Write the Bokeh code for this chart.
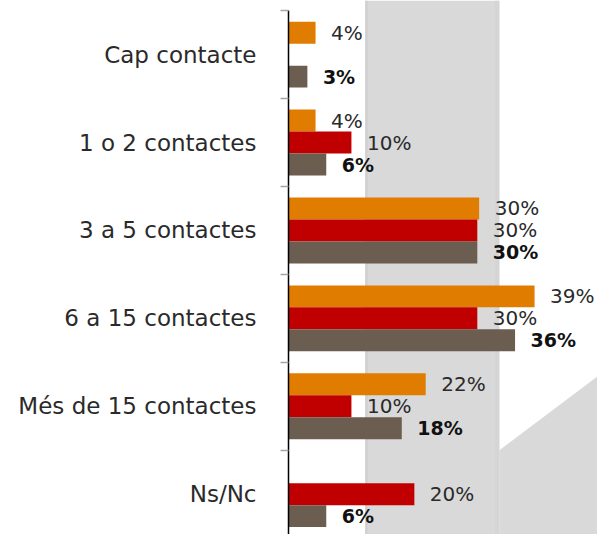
from bokeh.plotting import figure
from bokeh.models import ColumnDataSource, Range1d, FixedTicker, BoxAnnotation, PolyAnnotation
from bokeh.embed import file_html
from bokeh.resources import INLINE
from bokeh.core.properties import value

# ---- data ----
categories = ["Cap contacte", "1 o 2 contactes", "3 a 5 contactes",
              "6 a 15 contactes", "Més de 15 contactes", "Ns/Nc"]
orange_vals = [4.3, 4.3, 30.3, 39.1, 21.8, None]
red_vals = [None, 10.0, 30.0, 30.0, 10.0, 20.0]
brown_vals = [3.0, 6.0, 30.0, 36.0, 18.0, 6.0]

series = [
    (orange_vals, "#E07C00", -0.25, "normal"),
    (red_vals, "#C00000", 0.0, "normal"),
    (brown_vals, "#6B5D50", 0.25, "bold"),
]

FONT = "DejaVu Sans"

p = figure(width=597, height=534, output_backend="svg", toolbar_location=None,
           x_range=Range1d(0, 49.1), y_range=Range1d(5.959, -0.116),
           min_border_left=288, min_border_right=0, min_border_top=0, min_border_bottom=0)
p.outline_line_color = None
p.xgrid.visible = False
p.ygrid.visible = False
p.xaxis.visible = False

# decorative grey background
p.add_layout(BoxAnnotation(left=12.2, right=33.5, fill_color="#D9D9D9", fill_alpha=1,
                           line_color=None, level="underlay"))
p.add_layout(BoxAnnotation(left=12.2, right=12.55, fill_color="#D0D0D0", fill_alpha=1,
                           line_color=None, level="underlay"))
p.add_layout(BoxAnnotation(left=32.8, right=33.5, fill_color="#D5D5D5", fill_alpha=1,
                           line_color=None, level="underlay"))
p.add_layout(PolyAnnotation(xs=[33.5, 49.1, 49.1, 33.5], ys=[5.0, 4.16, 6.0, 6.0],
                            fill_color="#D9D9D9", fill_alpha=1, line_color=None,
                            level="underlay"))

for vals, color, off, weight in series:
    ys, xs, labels = [], [], []
    for i, v in enumerate(vals):
        if v is None:
            continue
        ys.append(i + 0.5 + off)
        xs.append(v)
        labels.append(f"{round(v)}%")
    src = ColumnDataSource(dict(y=ys, x=xs, label=labels))
    p.hbar(y="y", right="x", left=0, height=0.25, source=src,
           fill_color=color, line_color=None)
    p.text(x="x", y="y", text="label", source=src, x_offset=15.5,
           text_align="left", text_baseline="middle",
           text_font=value(FONT), text_font_size="20px" if weight == "normal" else "19px",
           text_font_style=weight,
           text_color="#2a2a2a" if weight == "normal" else "#111111")

ax = p.yaxis[0]
centers = [i + 0.5 for i in range(len(categories))]
bounds = [float(i) for i in range(len(categories) + 1)]
ax.bounds = (0, len(categories))
ax.ticker = FixedTicker(ticks=centers, minor_ticks=bounds)
ax.major_label_overrides = {c: name for c, name in zip(centers, categories)}
ax.major_tick_line_color = None
ax.major_tick_out = 0
ax.major_tick_in = 0
ax.minor_tick_out = 8
ax.minor_tick_in = 0
ax.minor_tick_line_color = "#A6A6A6"
ax.minor_tick_line_width = 1.5
ax.axis_line_color = "#000000"
ax.axis_line_width = 1.5
ax.major_label_standoff = 24
ax.major_label_text_font = FONT
ax.major_label_text_font_size = "23px"
ax.major_label_text_color = "#2a2a2a"

open("out.html", "w").write(file_html(p, INLINE))
